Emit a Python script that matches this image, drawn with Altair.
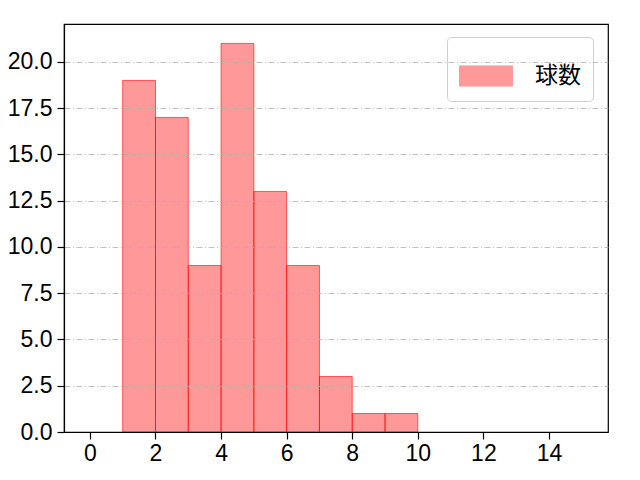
import altair as alt
import pandas as pd

bin_start = [1, 2, 3, 4, 5, 6, 7, 8, 9]
bin_end = [2, 3, 4, 5, 6, 7, 8, 9, 10]
counts = [19, 17, 9, 21, 13, 9, 3, 1, 1]
series = ["球数"] * len(counts)
x_ticks = [0, 2, 4, 6, 8, 10, 12, 14]
y_ticks = [0, 2.5, 5, 7.5, 10, 12.5, 15, 17.5, 20]

df = pd.DataFrame({"start": bin_start, "end": bin_end, "count": counts, "s": series})

font = "Liberation Sans"
cjk = "Noto Sans CJK JP"

chart = alt.Chart(df).mark_bar(
    fillOpacity=0.4, stroke="#ff0000", strokeOpacity=0.6, strokeWidth=1, binSpacing=0
).encode(
    x=alt.X("start:Q", scale=alt.Scale(domain=[-0.79, 15.8], nice=False, zero=False),
            axis=alt.Axis(values=x_ticks, title=None, grid=False, format="d",
                          zindex=2, labelPadding=3)),
    x2="end:Q",
    y=alt.Y("count:Q", scale=alt.Scale(domain=[0, 22.05], nice=False),
            axis=alt.Axis(values=y_ticks, title=None, format=".1f", grid=True,
                          gridDash=[6, 2.5, 1, 2.5], gridColor="#b0b0b0", gridWidth=0.8,
                          zindex=1, labelPadding=5)),
    y2=alt.datum(0),
    fill=alt.Fill("s:N", scale=alt.Scale(range=["#ff0000"]),
                  legend=alt.Legend(title=None, orient="none", legendX=383, legendY=13,
                                    symbolType="M-1,-0.38H1V0.38H-1Z", symbolSize=2809,
                                    symbolOpacity=0.4, symbolStrokeColor="#ff0000",
                                    symbolStrokeWidth=1,
                                    labelFont=cjk, labelFontSize=23, labelColor="#000000",
                                    fillColor="white", strokeColor="#d0d0d0",
                                    cornerRadius=4, padding=12, labelOffset=22,
                                    rowPadding=0)),
).properties(
    width=544, height=408,
    padding={"left": 56, "top": 16, "right": 24, "bottom": 40},
    autosize=alt.AutoSizeParams(type="none"),
).configure_view(
    stroke="#000000", strokeWidth=1.2
).configure_axis(
    labelFont=font, labelFontSize=23, labelColor="#000000",
    domainColor="#000000", domainWidth=1.2, tickColor="#000000", tickSize=7,
    tickWidth=1.2
)

chart.save("out.html", embed_options={"renderer": "svg", "actions": False})
